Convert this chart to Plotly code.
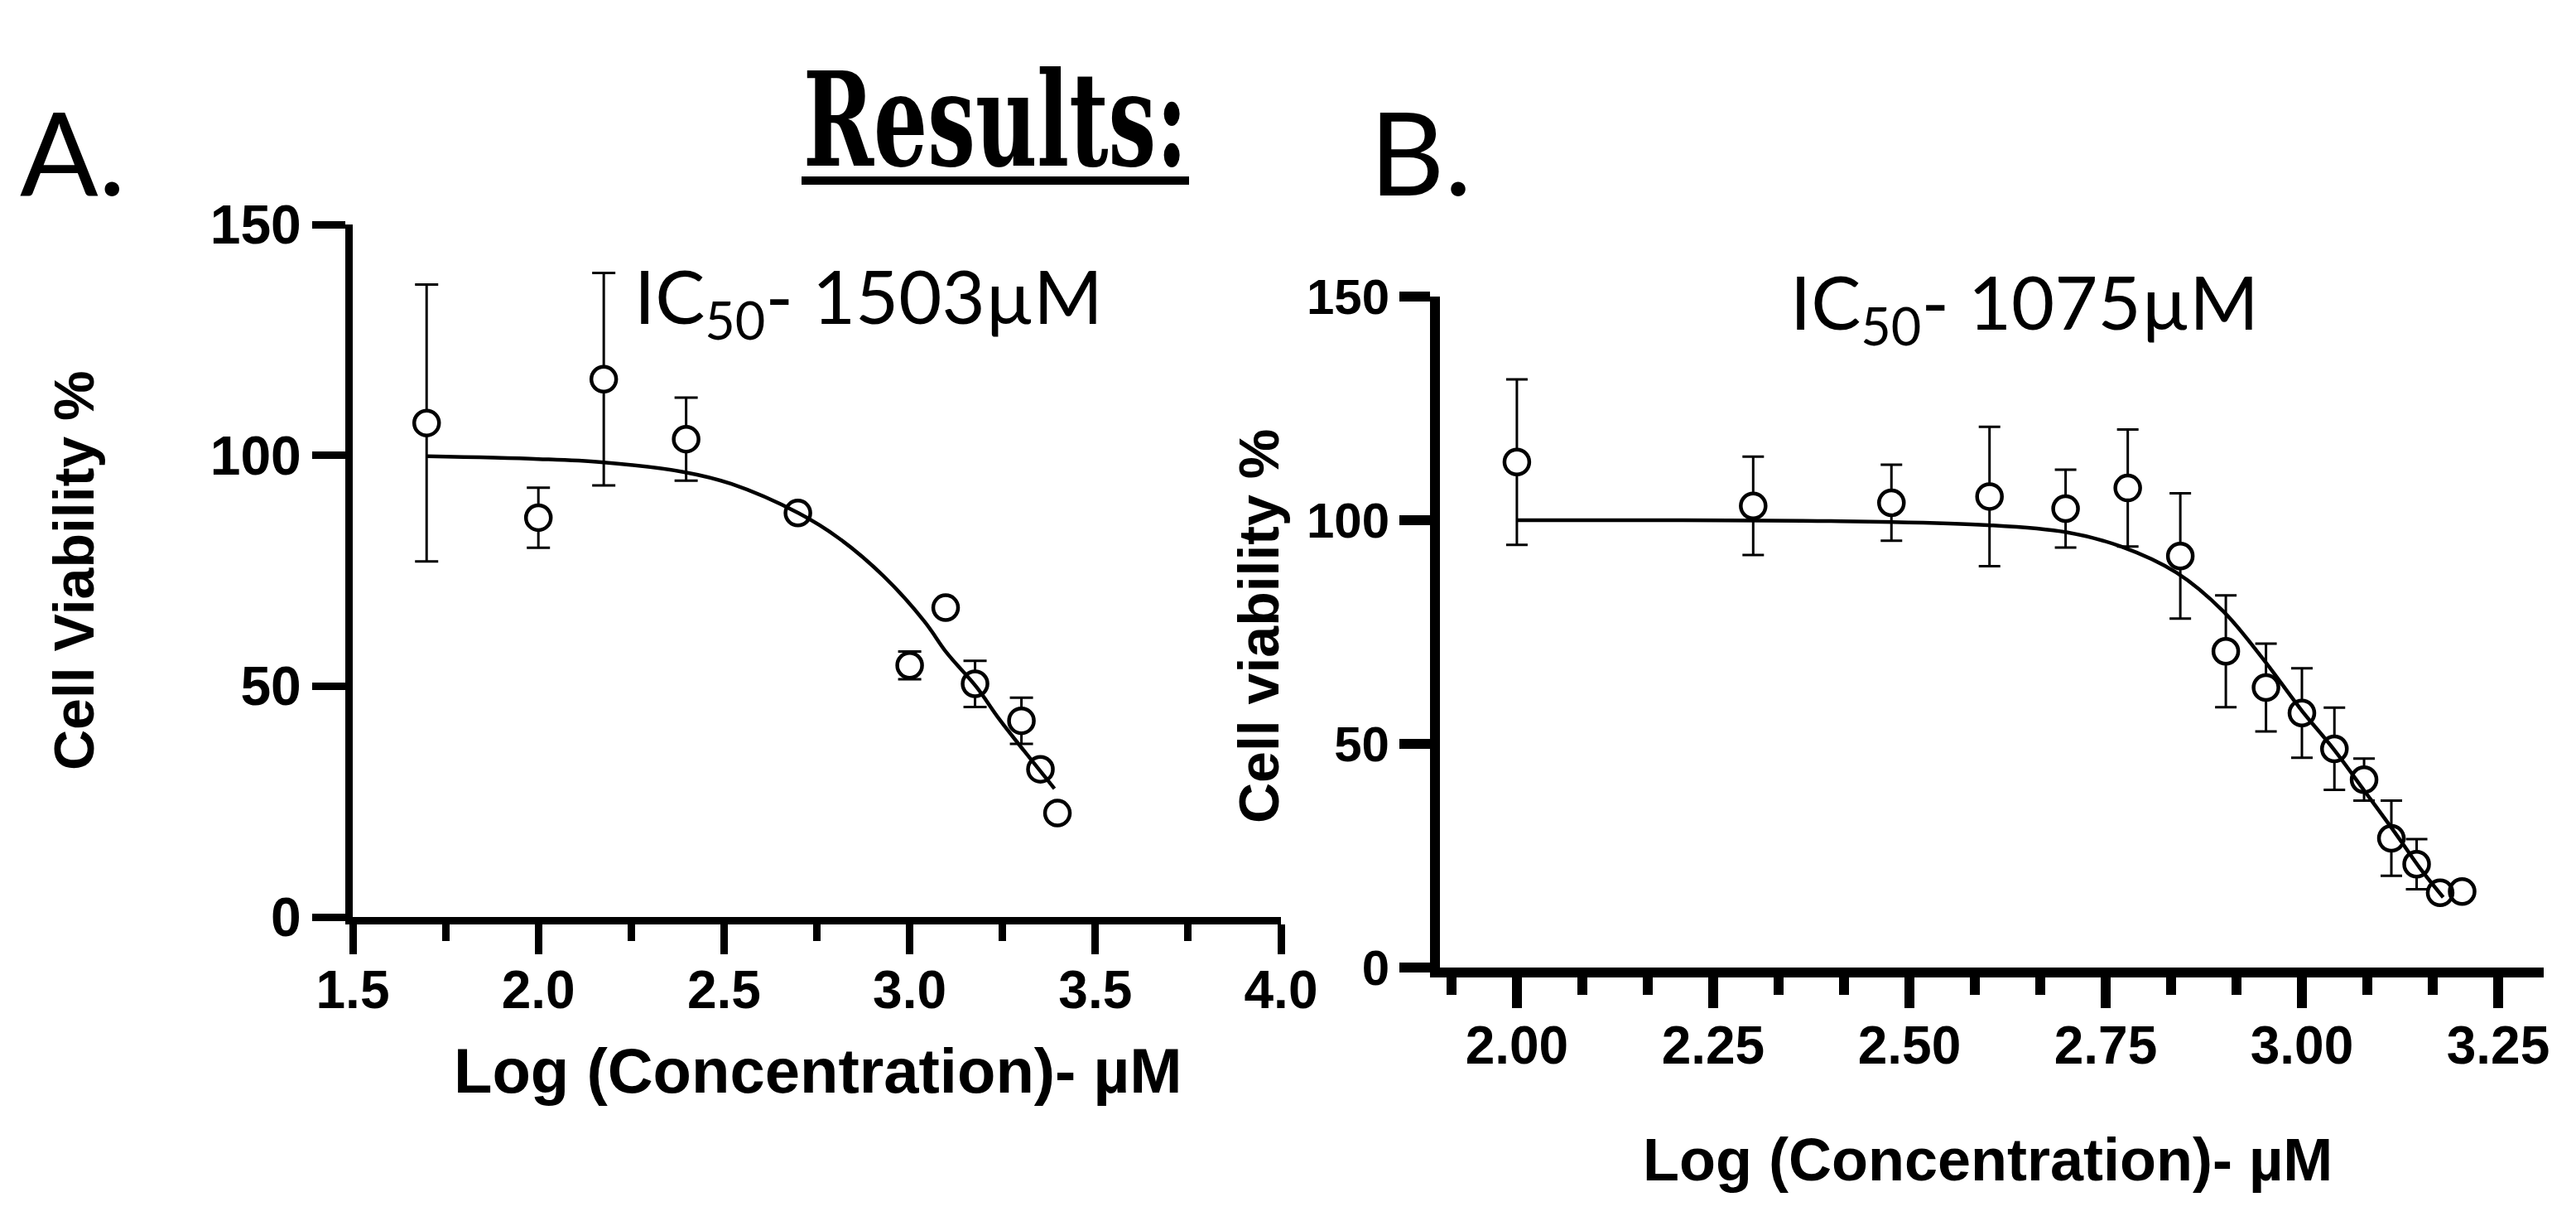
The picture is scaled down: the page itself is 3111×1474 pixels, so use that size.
import numpy as np
import plotly.graph_objects as go

W, H = 3111, 1474

# ---------------- Panel A data ----------------
conc_a = [50, 100, 150, 250, 500, 1000, 1250, 1500, 2000, 2250, 2500]
viab_a = [107.0, 86.5, 116.5, 103.5, 87.5, 54.5, 67.0, 50.5, 42.5, 32.0, 22.5]
err_a = [30.0, 6.5, 23.0, 9.0, 0.0, 3.0, 0.0, 5.0, 5.0, 0.0, 0.0]
fit_x_a = [1.70, 2.00, 2.17, 2.39, 2.52, 2.70, 2.81, 2.93, 3.04, 3.10, 3.18, 3.24, 3.31, 3.39]
fit_y_a = [99.8, 99.2, 98.5, 96.4, 93.8, 87.5, 82.0, 73.8, 64.0, 57.2, 49.8, 43.0, 35.8, 27.8]

# ---------------- Panel B data ----------------
conc_b = [100, 200, 300, 400, 500, 600, 700, 800, 900, 1000, 1100, 1200, 1300, 1400, 1500, 1600]
viab_b = [113.0, 103.2, 103.9, 105.3, 102.6, 107.2, 92.0, 70.7, 62.6, 56.9, 48.9, 42.0, 28.9, 23.1, 16.7, 17.0]
err_b = [18.5, 11.0, 8.5, 15.6, 8.7, 13.1, 14.0, 12.5, 9.8, 10.0, 9.2, 4.7, 8.4, 5.6, 0.0, 0.0]
fit_x_b = [2.00, 2.40, 2.60, 2.70, 2.77, 2.84, 2.90, 2.95, 3.00, 3.04, 3.08, 3.12, 3.15, 3.18]
fit_y_b = [100.0, 99.8, 98.9, 97.3, 94.1, 88.3, 79.6, 69.1, 57.4, 48.9, 39.4, 29.8, 22.3, 15.7]

ticks_a = [1.5, 2.0, 2.5, 3.0, 3.5, 4.0]
ticks_b = [2.00, 2.25, 2.50, 2.75, 3.00, 3.25]
yticks = [0, 50, 100, 150]

logc_a = np.log10(conc_a)
logc_b = np.log10(conc_b)


def px(x):
    return x / W


def py(y):
    return 1 - y / H


fig = go.Figure()


def add_panel(xs, ys, errs, fx, fy, xa, ya, cap, thick):
    # error bars with white under-markers (hide bar inside symbol)
    fig.add_trace(go.Scatter(
        x=xs, y=ys, mode="markers", xaxis=xa, yaxis=ya, showlegend=False,
        marker=dict(symbol="circle", size=30, color="white", line=dict(width=0)),
        error_y=dict(type="data", array=errs, visible=True, color="black",
                     thickness=thick, width=cap),
        cliponaxis=False, hoverinfo="skip"))
    # fitted curve
    fig.add_trace(go.Scatter(
        x=fx, y=fy, mode="lines", xaxis=xa, yaxis=ya, showlegend=False,
        line=dict(color="black", width=4.5, shape="spline", smoothing=1.0),
        cliponaxis=False))
    # open circles
    fig.add_trace(go.Scatter(
        x=xs, y=ys, mode="markers", xaxis=xa, yaxis=ya, showlegend=False,
        marker=dict(symbol="circle-open", size=30, color="black", line=dict(width=4.5)),
        cliponaxis=False))


add_panel(logc_a, viab_a, err_a, fit_x_a, fit_y_a, "x", "y", 14, 3)
add_panel(logc_b, viab_b, err_b, fit_x_b, fit_y_b, "x2", "y2", 13, 3)

tickfont_a = dict(family="Liberation Sans, Arial", size=64, color="black", weight="bold")
ytickfont_a = dict(family="Liberation Sans, Arial", size=66, color="black", weight="bold")
tickfont_b = dict(family="Liberation Sans, Arial", size=64, color="black", weight="bold")
ytickfont_b = dict(family="Liberation Sans, Arial", size=60, color="black", weight="bold")

fig.update_layout(
    width=W, height=H, autosize=False,
    margin=dict(l=0, r=0, t=0, b=0, pad=0, autoexpand=False),
    paper_bgcolor="white", plot_bgcolor="white", showlegend=False,
    xaxis=dict(domain=[px(426), px(1547)], anchor="y", range=[1.5, 4.0],
               tickvals=ticks_a, ticktext=["%.1f" % v for v in ticks_a],
               showline=True, linewidth=9, linecolor="black", automargin=False,
               ticks="outside", ticklen=36, tickwidth=9, tickcolor="black",
               ticklabelstandoff=-12,
               minor=dict(tickvals=[1.75, 2.25, 2.75, 3.25, 3.75], ticks="outside",
                          ticklen=20, tickwidth=9, tickcolor="black"),
               showgrid=False, zeroline=False, tickfont=tickfont_a),
    yaxis=dict(domain=[py(1107), py(271)], anchor="x", range=[0, 150],
               tickvals=yticks, showline=True, linewidth=9, linecolor="black",
               ticks="outside", ticklen=40, tickwidth=9, tickcolor="black",
               automargin=False,
               showgrid=False, zeroline=False, tickfont=ytickfont_a),
    xaxis2=dict(domain=[px(1739), px(3072)], anchor="y2", range=[1.902, 3.308],
                tickvals=ticks_b, ticktext=["%.2f" % v for v in ticks_b],
                showline=True, linewidth=12, linecolor="black", automargin=False,
                ticks="outside", ticklen=37, tickwidth=12, tickcolor="black",
                ticklabelstandoff=-10,
                minor=dict(dtick=0.25 / 3, tick0=2.0, ticks="outside",
                           ticklen=21, tickwidth=12, tickcolor="black"),
                showgrid=False, zeroline=False, tickfont=tickfont_b),
    yaxis2=dict(domain=[py(1168), py(358)], anchor="x2", range=[0, 150],
                tickvals=yticks, showline=True, linewidth=12, linecolor="black",
                ticks="outside", ticklen=37, tickwidth=12, tickcolor="black",
                automargin=False,
                showgrid=False, zeroline=False, tickfont=ytickfont_b),
)

ann = []


def add_text(text, x, y, size, family, xanchor="center", yanchor="middle",
             bold=False, angle=0):
    ann.append(dict(text=text, x=px(x), y=py(y), xref="paper", yref="paper",
                    xanchor=xanchor, yanchor=yanchor, showarrow=False, textangle=angle,
                    font=dict(family=family, size=size, color="black",
                              weight="bold" if bold else "normal")))


calib = "Lato, Carlito, Open Sans"
arial = "Liberation Sans, Arial"

add_text("Results:", 1202, 144, 158, "DejaVu Serif Condensed, DejaVu Serif", bold=True)
add_text("A.", 22, 182, 140, calib, xanchor="left")
add_text("B.", 1652, 182, 140, calib, xanchor="left")
add_text("IC<sub>50</sub>- 1503µM", 764, 363, 90, calib, xanchor="left")
add_text("IC<sub>50</sub>- 1075µM", 2160, 369, 90, calib, xanchor="left")
add_text("Log (Concentration)- µM", 988, 1292, 76, arial, bold=True)
add_text("Log (Concentration)- µM", 2400, 1400, 72, arial, bold=True)
add_text("Cell Viability %", 89, 689, 68, arial, bold=True, angle=-90)
add_text("Cell viability %", 1520, 756, 68, arial, bold=True, angle=-90)

fig.update_layout(annotations=ann)

# underline of the title
fig.add_shape(type="line", xref="paper", yref="paper",
              x0=px(968), x1=px(1436), y0=py(218), y1=py(218),
              line=dict(color="black", width=10))

post = """
document.body.style.margin='0';
document.body.style.overflow='hidden';
var gd=document.getElementById('{plot_id}');
gd.querySelectorAll('text').forEach(function(t){
  if(t.textContent==='Results:'){
    var bb=t.getBBox(); var cx=bb.x+bb.width/2; var s=464/bb.width;
    var tr=t.getAttribute('transform')||'';
    t.setAttribute('transform', tr+' translate('+cx+',0) scale('+s+',1) translate('+(-cx)+',0)');
  }
});
"""

fig.write_html("out.html", post_script=post, config={"displayModeBar": False})
